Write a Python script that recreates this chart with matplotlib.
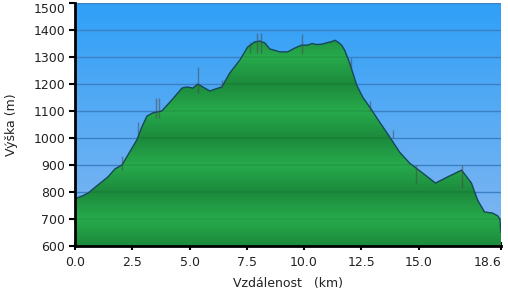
import matplotlib
matplotlib.use("Agg")
import matplotlib.pyplot as plt
import numpy as np
from matplotlib.patches import Polygon
from matplotlib.colors import to_rgb

# elevation profile
km = [0, 0.3, 0.57, 1.0, 1.44, 1.74, 2.05, 2.31, 2.70, 2.92, 3.14, 3.40, 3.79,
      4.23, 4.67, 4.88, 5.15, 5.36, 5.58, 5.89, 6.11, 6.41, 6.76, 7.20, 7.54,
      7.85, 8.07, 8.29, 8.50, 8.94, 9.29, 9.59, 9.90, 10.16, 10.35, 10.55,
      10.82, 11.0, 11.21, 11.35, 11.47, 11.64, 11.77, 11.99, 12.30, 12.56,
      12.95, 13.30, 13.74, 14.17, 14.61, 15.18, 15.74, 16.27, 16.88, 17.31,
      17.58, 17.88, 18.23, 18.45, 18.55, 18.6]
elev = [775, 785, 796, 826, 856, 885, 900, 937, 993, 1041, 1081, 1093, 1100,
        1141, 1185, 1189, 1185, 1200, 1189, 1174, 1181, 1189, 1241, 1289, 1337,
        1356, 1359, 1352, 1330, 1319, 1319, 1333, 1344, 1344, 1350, 1346,
        1348, 1353, 1357, 1362, 1356, 1344, 1326, 1278, 1196, 1152,
        1104, 1059, 1004, 948, 907, 870, 833, 856, 881, 833,
        770, 726, 722, 712, 700, 650]

# waypoint markers: position, low and high end of the mark
wp_km = [2.05, 2.75, 3.53, 3.66, 5.36, 6.41, 7.63, 7.94, 8.11, 9.90,
         12.03, 12.87, 13.87, 14.90, 16.88]
wp_lo = [880, 1015, 1074, 1074, 1167, 1185, 1315, 1315, 1315, 1310,
         1255, 1100, 1000, 830, 815]
wp_hi = [935, 1060, 1148, 1148, 1263, 1215, 1356, 1389, 1389, 1385,
         1296, 1137, 1030, 900, 900]

xticks = [0, 2.5, 5, 7.5, 10, 12.5, 15, 18.6]
xticklabels = ["0.0", "2.5", "5.0", "7.5", "10.0", "12.5", "15.0", "18.6"]
yticks = list(range(600, 1501, 100))

fig = plt.figure(figsize=(5.08, 2.96), dpi=100)
ax = fig.add_axes([75/508, 50/296, 426/508, 243/296])
xmin, xmax, ymin, ymax = 0, 18.6, 600, 1500

# blue sky gradient
top = np.array(to_rgb("#30a0f7"))
bot = np.array(to_rgb("#84b7f1"))
t = np.linspace(0, 1, 300)[:, None]
sky = (top * (1 - t) + bot * t)[:, None, :]
ax.imshow(sky, extent=[xmin, xmax, ymin, ymax], aspect="auto", zorder=0)

for y in yticks[1:]:
    ax.axhline(y, color="#3b80c4", lw=1, zorder=1)

# green banded fill
e = np.linspace(ymax, ymin, 1800)
f = np.abs(((e - 600) % 200) - 100) / 100.0
light = np.array(to_rgb("#27aa4c"))
dark = np.array(to_rgb("#1c8a3c"))
g = light[None, :] * (1 - f[:, None]) + dark[None, :] * f[:, None]
near = np.abs(((e + 50) % 100) - 50) < 2.0
g[near] *= 0.88
green = g[:, None, :]
im = ax.imshow(green, extent=[xmin, xmax, ymin, ymax], aspect="auto", zorder=2)
verts = np.column_stack([[km[0]] + km + [km[-1]], [ymin] + elev + [ymin]])
poly = Polygon(verts, closed=True, transform=ax.transData, facecolor="none",
               edgecolor="none")
ax.add_patch(poly)
im.set_clip_path(poly)

ax.plot(km, elev, color="#15485a", lw=1.0, zorder=3)
ax.vlines(wp_km, wp_lo, wp_hi, color="#4a4a4a", lw=1, alpha=0.55, zorder=4)

ax.set_xlim(xmin, xmax)
ax.set_ylim(ymin, ymax)
ax.set_xticks(xticks)
ax.set_xticklabels(xticklabels)
ax.set_yticks(yticks)
ax.get_xticklabels()[-1].set_horizontalalignment("right")
ax.get_yticklabels()[-1].set_verticalalignment("top")

for s in ["top", "right"]:
    ax.spines[s].set_visible(False)
for s in ["left", "bottom"]:
    ax.spines[s].set_linewidth(2)
    ax.spines[s].set_color("black")
    ax.spines[s].set_zorder(5)

ax.tick_params(axis="y", direction="out", length=4, width=1.5, pad=3,
               labelsize=9, labelcolor="#222222")
ax.tick_params(axis="x", direction="inout", length=6, width=1.5, pad=4,
               labelsize=9, labelcolor="#222222")

ax.set_xlabel("Vzdálenost   (km)", fontsize=9, color="#222222", labelpad=6)
ax.set_ylabel("Výška (m)", fontsize=9, color="#222222", labelpad=11)

fig.savefig("out.png", dpi=100)
